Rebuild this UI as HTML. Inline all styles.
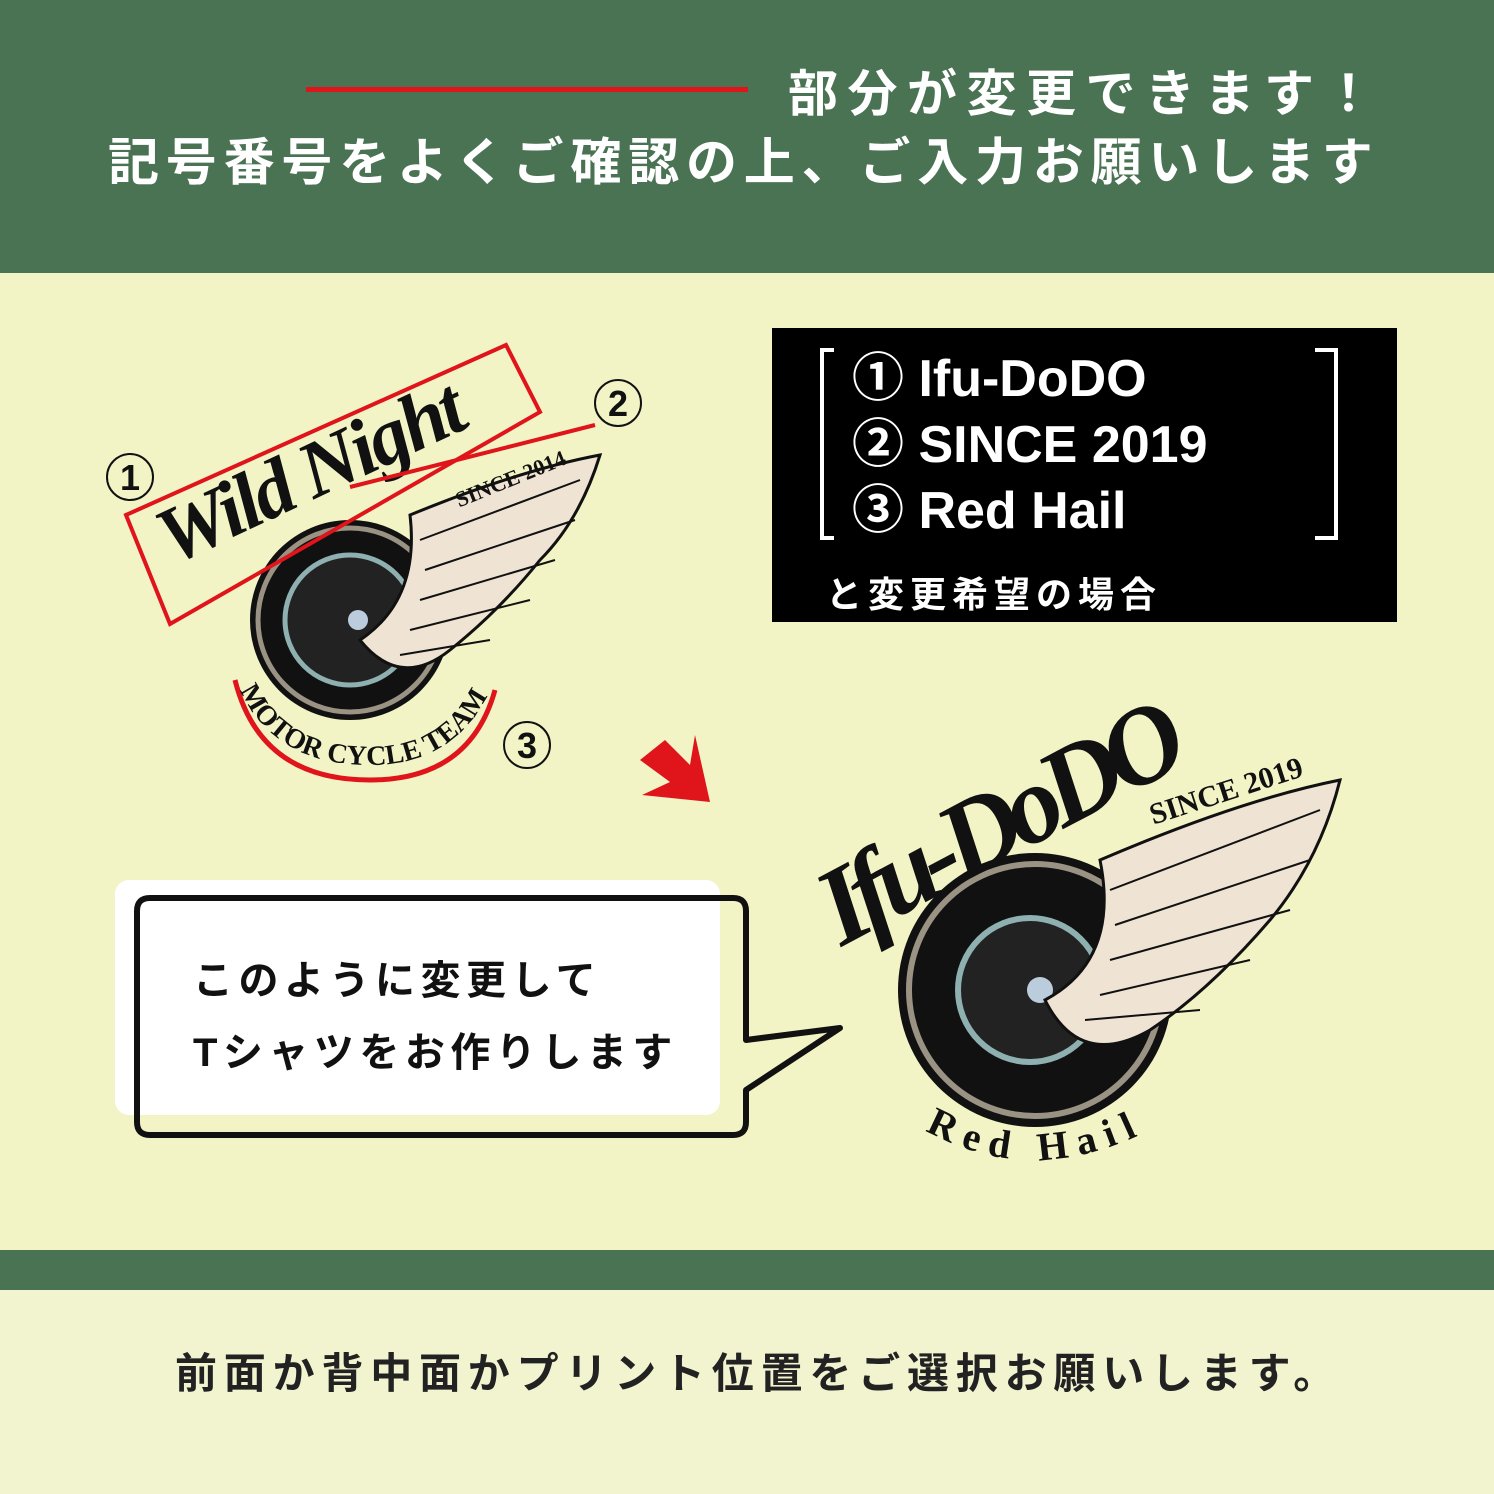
<!DOCTYPE html>
<html><head><meta charset="utf-8"><style>
html,body{margin:0;padding:0}
body{width:1494px;height:1494px;position:relative;background:#f2f4c6;font-family:"Liberation Sans","Noto Sans CJK JP",sans-serif;overflow:hidden}
.abs{position:absolute}
</style></head><body>
<div class="abs" style="left:0;top:0;width:1494px;height:273px;background:#4a7354"></div>
<div class="abs" style="left:306px;top:87px;width:442px;height:5px;background:#e0141b"></div>
<div class="abs" style="left:788px;top:62px;color:#fff;font-size:50px;font-weight:bold;letter-spacing:9.5px;white-space:nowrap;line-height:64px">部分が変更できます！</div>
<div class="abs" style="left:108px;top:131px;color:#fff;font-size:51px;font-weight:bold;letter-spacing:6.8px;white-space:nowrap;line-height:64px">記号番号をよくご確認の上、ご入力お願いします</div>

<div class="abs" style="left:0;top:1250px;width:1494px;height:40px;background:#4a7354"></div>
<div class="abs" style="left:0;top:1290px;width:1494px;height:204px;background:#f2f4d0"></div>
<div class="abs" style="left:175px;top:1346px;color:#222;font-size:42px;font-weight:bold;letter-spacing:6.8px;white-space:nowrap;line-height:56px">前面か背中面かプリント位置をご選択お願いします。</div>

<div class="abs" style="left:772px;top:328px;width:625px;height:294px;background:#000"></div>
<svg class="abs" style="left:772px;top:328px" width="625" height="294">
<path d="M62 22 H50 V210 H62" fill="none" stroke="#fff" stroke-width="4"/>
<path d="M543 22 H564 V210 H543" fill="none" stroke="#fff" stroke-width="4"/>
</svg>
<div class="abs" style="left:852px;top:346px;color:#fff;font-size:52px;font-weight:bold;line-height:66px;white-space:nowrap">
<div>① Ifu-DoDO</div><div>② SINCE 2019</div><div>③ Red Hail</div></div>
<div class="abs" style="left:826px;top:566px;color:#fff;font-size:36px;font-weight:bold;letter-spacing:6px;white-space:nowrap">と変更希望の場合</div>

<div class="abs" style="left:115px;top:880px;width:605px;height:235px;background:#fff;border-radius:14px"></div>
<svg class="abs" style="left:0;top:0" width="1494" height="1494">
<path d="M150 898 H733 Q746 898 746 911 V1040 L840 1028 L746 1090 V1122 Q746 1135 733 1135 H150 Q137 1135 137 1122 V911 Q137 898 150 898 Z" fill="none" stroke="#111" stroke-width="6" stroke-linejoin="round"/>
<polygon points="640,760 665,740 690,765 695,735 710,802 642,795 670,782" fill="#e0141b"/>

<circle cx="350" cy="620" r="100" fill="#111"/>
<circle cx="350" cy="620" r="92" fill="none" stroke="#9a9384" stroke-width="5"/>
<circle cx="350" cy="620" r="65" fill="#222" stroke="#8fb0b0" stroke-width="5"/>
<circle cx="358" cy="620" r="10" fill="#bcd"/>
<path d="M410 515 Q520 470 600 455 Q580 520 540 560 Q500 610 450 650 Q400 690 360 640 Q420 600 410 515 Z" fill="#efe3d4" stroke="#111" stroke-width="3"/>
<g stroke="#111" stroke-width="2" fill="none"><path d="M420 540 L580 480 M425 570 L575 520 M420 600 L555 560 M410 630 L530 600 M400 655 L490 640"/></g>
<g transform="rotate(-25 320 480)"><text x="150" y="495" font-family="Liberation Serif,serif" font-style="italic" font-weight="bold" font-size="80" fill="#111" textLength="330">Wild Night</text></g>
<g transform="rotate(-22 510 460)"><text x="445" y="485" font-family="Liberation Serif,serif" font-weight="bold" font-size="22" fill="#111">SINCE 2014</text></g>
<polygon points="126,515 506,345 540,412 170,624" fill="none" stroke="#e0141b" stroke-width="4"/>
<line x1="350" y1="487" x2="595" y2="425" stroke="#e0141b" stroke-width="4"/>
<path d="M235 680 Q260 780 370 780 Q470 780 495 690" fill="none" stroke="#e0141b" stroke-width="5"/>
<path id="arc1" d="M240 690 Q275 765 370 765 Q455 765 490 690" fill="none"/>
<text font-family="Liberation Serif,serif" font-weight="bold" font-size="28" fill="#111"><textPath href="#arc1">MOTOR CYCLE TEAM</textPath></text>
<g font-size="36" font-weight="bold" fill="#111" text-anchor="middle">
<circle cx="130" cy="477" r="23" fill="none" stroke="#111" stroke-width="2"/><text x="130" y="490">1</text>
<circle cx="618" cy="403" r="23" fill="none" stroke="#111" stroke-width="2"/><text x="618" y="416">2</text>
<circle cx="527" cy="745" r="23" fill="none" stroke="#111" stroke-width="2"/><text x="527" y="758">3</text></g>

<circle cx="1035" cy="990" r="137" fill="#111"/>
<circle cx="1035" cy="990" r="126" fill="none" stroke="#9a9384" stroke-width="6"/>
<circle cx="1030" cy="990" r="72" fill="#222" stroke="#8fb0b0" stroke-width="6"/>
<circle cx="1040" cy="990" r="13" fill="#bcd"/>
<path d="M1100 860 Q1240 800 1340 780 Q1320 860 1270 920 Q1210 990 1150 1030 Q1080 1070 1045 1000 Q1120 960 1100 860 Z" fill="#efe3d4" stroke="#111" stroke-width="3"/>
<g stroke="#111" stroke-width="2" fill="none"><path d="M1110 890 L1320 810 M1115 925 L1310 860 M1110 960 L1290 910 M1100 995 L1250 960 M1085 1020 L1200 1010"/></g>
<g transform="rotate(-28 990 800)"><text x="790" y="860" font-family="Liberation Serif,serif" font-style="italic" font-weight="bold" font-size="110" fill="#111" textLength="400">Ifu-DoDO</text></g>
<g transform="rotate(-18 1225 770)"><text x="1140" y="800" font-family="Liberation Serif,serif" font-weight="bold" font-size="30" fill="#111">SINCE 2019</text></g>
<path id="arc2" d="M925 1130 Q1030 1190 1150 1130" fill="none"/>
<text font-family="Liberation Serif,serif" font-weight="bold" font-size="40" letter-spacing="10" fill="#111"><textPath href="#arc2">Red Hail</textPath></text>
</svg>
<div class="abs" style="left:193px;top:945px;color:#111;font-size:40px;font-weight:bold;letter-spacing:5.5px;line-height:72px;white-space:nowrap">このように変更して<br>Tシャツをお作りします</div>
</body></html>
